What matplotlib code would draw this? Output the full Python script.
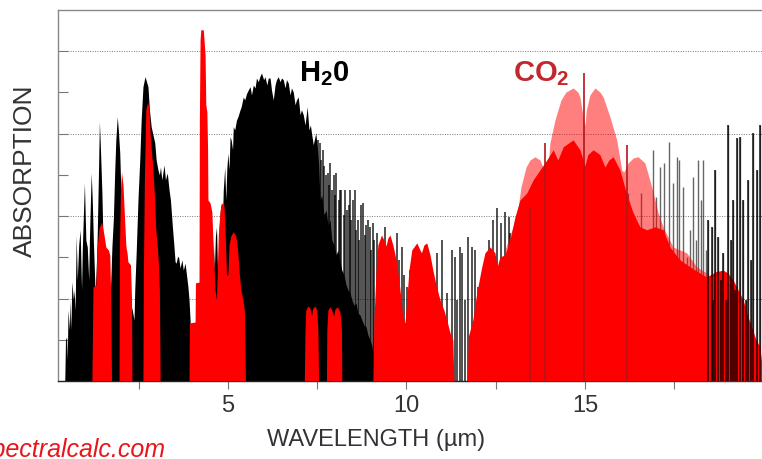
import numpy as np
import matplotlib.pyplot as plt

plt.rcParams['font.family'] = ['Liberation Sans', 'DejaVu Sans']
plt.rcParams['mathtext.fontset'] = 'custom'
plt.rcParams['mathtext.rm'] = 'Liberation Sans:bold'

# H2O dense absorption (black), wavelength in um, absorption in axis units
h2o_wl = [0.43, 0.45, 0.48, 0.50, 0.52, 0.56, 0.58, 0.60, 0.63, 0.67, 0.69, 0.72, 0.75, 0.78, 0.82, 0.86,
          0.90, 0.92, 0.98, 1.02, 1.06, 1.10, 1.12, 1.17, 1.20, 1.23, 1.28, 1.31, 1.34, 1.37, 1.40, 1.43,
          1.47, 1.50, 1.55, 1.58, 1.62, 1.65, 1.69, 1.72, 1.75, 1.79, 1.83, 1.86, 1.90, 1.93, 1.97, 2.00,
          2.03, 2.07, 2.11, 2.16, 2.20, 2.24, 2.27, 2.32, 2.37, 2.39, 2.43, 2.48, 2.53, 2.57, 2.62, 2.66,
          2.68, 2.72, 2.76, 2.80, 2.85, 2.90, 2.95, 2.99, 3.04, 3.08, 3.11, 3.15, 3.21, 3.25, 3.30, 3.35,
          3.39, 3.44, 3.49, 3.52, 3.55, 3.59, 3.62, 3.66, 3.71, 3.75, 3.80, 3.84, 3.88, 3.91, 3.94, 3.95,
          4.55, 4.57, 4.59, 4.62, 4.65, 4.68, 4.72, 4.75, 4.78, 4.81, 4.85, 4.87, 4.91, 4.94, 4.97, 5.00,
          5.03, 5.06, 5.09, 5.13, 5.15, 5.19, 5.24, 5.28, 5.34, 5.37, 5.43, 5.47, 5.52, 5.57, 5.62, 5.66,
          5.71, 5.76, 5.80, 5.85, 5.90, 5.94, 6.00, 6.04, 6.09, 6.13, 6.18, 6.22, 6.27, 6.32, 6.36, 6.41,
          6.46, 6.50, 6.55, 6.60, 6.64, 6.69, 6.74, 6.78, 6.83, 6.88, 6.92, 6.97, 7.02, 7.06, 7.11, 7.16,
          7.22, 7.27, 7.31, 7.34, 7.39, 7.46, 7.51, 7.54, 7.58, 7.63, 7.69, 7.75, 7.80, 7.86, 7.91, 7.97,
          8.03, 8.08, 8.14, 8.19, 8.25, 8.31, 8.36, 8.42, 8.47, 8.53, 8.59, 8.64, 8.70, 8.75, 8.81, 8.87,
          8.92, 8.98, 9.03, 9.07, 9.09]
h2o_abs = [0, 1.00, 1.07, 0.51, 1.72, 1.24, 1.97, 1.24, 2.41, 1.97, 2.21, 1.72, 3.54, 2.45, 3.30, 3.67,
           2.21, 3.18, 4.81, 3.42, 3.25, 2.45, 3.42, 5.05, 4.39, 3.42, 2.14, 2.69, 3.59, 4.88, 6.29, 5.61,
           4.56, 3.42, 2.52, 1.97, 1.41, 1.97, 1.72, 2.45, 3.25, 3.91, 5.12, 5.85, 6.41, 6.09, 5.53, 4.64,
           3.98, 3.42, 2.94, 3.18, 2.52, 2.33, 1.89, 1.72, 1.48, 2.21, 3.11, 4.39, 5.36, 6.33, 7.14, 7.31,
           7.38, 7.26, 7.14, 6.58, 6.17, 5.97, 5.78, 5.36, 5.12, 5.00, 5.19, 4.88, 5.24, 4.88, 5.05, 4.64,
           4.39, 3.79, 3.25, 2.89, 2.86, 3.03, 2.99, 2.74, 2.94, 2.69, 2.86, 2.57, 2.28, 1.97, 1.48, 0,
           0, 1.97, 3.42, 2.69, 3.52, 3.74, 2.21, 3.67, 4.03, 4.32, 4.03, 4.64, 5.19, 4.39, 5.17, 5.53,
           5.12, 5.92, 5.85, 5.61, 6.17, 6.09, 6.33, 6.41, 6.58, 6.65, 6.89, 6.82, 6.97, 7.06, 7.14, 6.94,
           7.18, 7.11, 7.35, 7.26, 7.40, 7.47, 7.31, 7.38, 7.18, 7.35, 7.35, 7.06, 6.82, 7.18, 7.31, 7.38,
           7.26, 7.35, 7.31, 7.11, 7.31, 7.23, 6.94, 7.11, 7.01, 6.70, 6.82, 6.89, 6.46, 6.58, 6.46, 6.21,
           6.65, 6.09, 6.21, 6.02, 5.73, 6.02, 5.61, 5.24, 4.39, 4.51, 4.03, 4.15, 3.79, 3.91, 3.42, 3.30,
           3.06, 3.18, 2.89, 2.69, 2.57, 2.33, 2.21, 2.14, 1.97, 1.84, 1.89, 1.65, 1.60, 1.48, 1.36, 1.31,
           1.12, 1.00, 0.87, 0.63, 0]

# individual H2O lines outside the dense band
line_wl = [7.52, 7.58, 7.62, 7.66, 7.70, 7.75, 7.80, 7.84, 7.87, 7.91, 7.96, 8.00, 8.04, 8.10, 8.14, 8.18,
           8.24, 8.28, 8.33, 8.38, 8.42, 8.46, 8.50, 8.56, 8.60, 8.64, 8.68, 8.73, 8.79, 8.84, 8.88, 8.92,
           8.98, 9.02, 9.05, 9.09, 9.17, 9.22, 9.29, 9.40, 9.48, 9.59, 9.65, 9.73, 9.79, 9.87, 9.93, 10.01,
           10.10, 10.21, 10.35, 10.85, 11.01, 11.14, 11.27, 11.36, 11.43, 11.50, 11.57, 11.65, 11.73, 11.83,
           11.92, 12.01, 12.11, 12.20, 12.32, 12.43, 12.54, 12.64, 12.76, 12.87, 12.90, 13.04, 13.21,
           16.21, 16.35, 16.56, 16.68, 16.90, 16.99, 17.10, 17.21, 17.35, 17.47, 17.57, 17.63, 17.74, 17.85,
           17.94, 18.03, 18.11, 18.17, 18.24, 18.31, 18.39, 18.45, 18.55, 18.60, 18.64, 18.73, 18.80, 18.87,
           18.94, 19.00, 19.08, 19.16, 19.20, 19.25, 19.34, 19.43, 19.51, 19.57, 19.64, 19.71, 19.81, 19.90]
line_abs = [5.85, 5.78, 5.36, 5.61, 5.22, 5.00, 5.05, 4.76, 5.29, 4.64, 5.00, 4.51, 5.05, 4.39, 4.64, 4.64,
            4.03, 4.64, 4.15, 4.27, 4.64, 3.91, 4.39, 4.64, 3.67, 3.91, 3.42, 4.27, 4.32, 3.54, 3.79, 3.91,
            3.74, 3.18, 3.83, 3.42, 3.59, 2.82, 3.18, 3.74, 3.06, 3.30, 2.69, 3.59, 2.94, 3.25, 2.57, 2.28,
            2.69, 2.21, 1.97, 3.11, 3.42, 2.14, 3.18, 3.01, 1.97, 3.25, 3.11, 1.97, 3.50, 3.25,
            3.18, 2.28, 2.62, 2.94, 3.42, 3.91, 4.20, 3.83, 4.10, 3.98, 3.59, 3.67, 3.91,
            4.56, 4.08, 4.56, 3.67, 5.61, 4.47, 5.19, 5.29, 5.80, 4.81, 5.44, 5.36, 4.71, 3.01,
            3.67, 4.95, 3.42, 5.36, 4.39, 5.36, 3.18, 3.91, 3.74, 1.97, 5.12, 3.50, 2.45, 3.11,
            1.97, 6.21, 3.42, 4.39, 2.21, 5.90, 5.92, 4.39, 1.97, 4.88, 2.94, 6.02, 5.12, 6.21]

# CO2 absorption (solid red)
co2_wl = [1.19, 1.22, 1.30, 1.33, 1.39, 1.46, 1.53, 1.58, 1.65, 1.69, 1.71, 1.74,
          1.95, 1.96, 1.99, 2.02, 2.06, 2.10, 2.14, 2.20, 2.27, 2.30, 2.31,
          2.62, 2.63, 2.66, 2.70, 2.75, 2.79, 2.83, 2.89, 2.94, 2.98, 3.03, 3.05, 3.08, 3.10,
          3.91, 3.92, 4.08, 4.09, 4.19, 4.20, 4.22, 4.24, 4.31, 4.36, 4.38, 4.41, 4.43, 4.44, 4.50,
          4.55, 4.59, 4.64, 4.68, 4.71, 4.73, 4.78, 4.83, 4.89, 4.92, 4.96, 5.00, 5.03, 5.08, 5.15,
          5.22, 5.27, 5.32, 5.36, 5.42, 5.46, 5.49,
          7.14, 7.16, 7.18, 7.24, 7.30, 7.34, 7.38, 7.44, 7.49, 7.52, 7.54,
          7.76, 7.77, 7.80, 7.86, 7.91, 7.96, 8.00, 8.07, 8.14, 8.18, 8.19,
          9.06, 9.09, 9.15, 9.20, 9.30, 9.37, 9.43, 9.48, 9.54, 9.62, 9.71, 9.79, 9.85, 9.90, 9.96,
          10.01, 10.07, 10.15, 10.29, 10.38, 10.42, 10.49, 10.57, 10.66, 10.74, 10.83, 10.94, 11.05,
          11.13, 11.22, 11.30, 11.33,
          11.71, 11.73, 11.86, 11.97, 12.11, 12.20, 12.34, 12.48, 12.54, 12.62, 12.76, 12.90, 13.04,
          13.18, 13.37, 13.55, 13.74, 13.93, 14.11, 14.24, 14.39, 14.67, 14.86, 15.00, 15.08, 15.23,
          15.42, 15.56, 15.67, 15.79, 15.98, 16.16, 16.35, 16.54, 16.73, 16.96, 17.19, 17.38, 17.66,
          17.94, 18.22, 18.41, 18.50, 18.67, 18.87, 19.00, 19.15, 19.29, 19.43, 19.55, 19.67, 19.79,
          19.90, 20.01]
co2_abs = [0, 2.28, 2.33, 3.18, 3.71, 3.86, 3.54, 3.25, 3.18, 3.06, 2.28, 0,
           0, 3.18, 4.64, 5.07, 4.76, 4.03, 3.30, 2.89, 2.82, 1.97, 0,
           0, 2.45, 4.88, 6.58, 6.77, 6.58, 5.85, 5.24, 4.51, 3.67, 3.18, 2.89, 2.21, 0,
           0, 1.41, 1.43, 2.38, 2.40, 6.33, 8.28, 8.52, 8.52, 7.91, 6.70, 6.53, 5.61, 4.39, 4.32,
           4.10, 3.18, 2.21, 1.97, 2.94, 3.54, 4.15, 4.32, 4.27, 3.67, 2.57, 2.57, 3.30, 3.52, 3.62,
           3.52, 3.20, 2.60, 2.21, 1.97, 1.72, 0,
           0, 1.24, 1.72, 1.82, 1.77, 1.58, 1.77, 1.82, 1.72, 1.24, 0,
           0, 1.24, 1.72, 1.80, 1.72, 1.58, 1.75, 1.80, 1.67, 1.24, 0,
           0, 1.48, 2.69, 3.30, 3.54, 3.42, 3.28, 3.47, 3.54, 3.30, 2.94, 2.45, 1.97, 1.53, 1.41,
           1.97, 2.69, 3.18, 3.35, 3.18, 3.11, 3.30, 3.35, 3.06, 2.69, 2.33, 1.97, 1.72,
           1.48, 1.17, 1.00, 0,
           0, 1.07, 1.48, 2.14, 2.77, 3.11, 3.25, 3.11, 2.77, 3.01, 3.06, 3.42, 3.98,
           4.39, 4.56, 4.88, 5.12, 5.36, 5.61, 5.36, 5.68, 5.85, 5.61, 5.22, 5.49, 5.61,
           5.49, 5.19, 5.36, 5.44, 5.12, 4.56, 4.08, 3.74, 3.67, 3.74, 3.67, 3.25, 2.94,
           2.77, 2.62, 2.52, 2.57, 2.65, 2.69, 2.62, 2.45, 2.21, 1.97, 1.60, 1.31, 1.00,
           0.83, 0]

# CO2 15 um band upper envelope (light red)
wing_wl = [12.76, 12.76, 12.90, 13.09, 13.21, 13.35, 13.46, 13.60, 13.74, 13.82, 13.93, 13.96, 14.02,
           14.16, 14.33, 14.47, 14.67, 14.80, 14.86, 14.94, 15.00, 15.04, 15.14, 15.28, 15.42, 15.51,
           15.70, 15.89, 16.03, 16.09, 16.21, 16.35, 16.49, 16.68, 16.87, 17.05, 17.19, 17.47, 17.85,
           18.13, 18.41, 18.45]
wing_abs = [0, 3.18, 3.54, 3.98, 4.71, 5.19, 5.36, 5.44, 5.36, 5.19, 4.71, 5.12, 5.78,
            6.33, 6.82, 7.01, 7.11, 7.01, 6.89, 6.46, 6.19, 6.58, 6.94, 7.11, 7.01, 6.89,
            6.41, 5.85, 5.12, 5.07, 5.29, 5.41, 5.44, 5.29, 4.71, 4.08, 3.74, 3.25, 3.11,
            2.77, 2.62, 0]

# strong CO2 lines sticking out of the band
co2_line_wl = [13.46, 13.88, 14.98, 16.18]
co2_line_abs = [4.22, 5.78, 7.48, 5.73]

fig = plt.figure(figsize=(7.62, 4.59), dpi=100)
ax = fig.add_axes([58 / 762, 1 - 381 / 459, 1 - 58 / 762, 371 / 459])

for g in [2, 4, 6, 8]:
    ax.axhline(g, color='#777777', ls=(0, (1, 1.5)), lw=0.7, zorder=0)

lw_arr = np.array(line_wl)
la_arr = np.array(line_abs)
near = lw_arr < 13.5
far = lw_arr > 18.4

ax.fill_between(h2o_wl, h2o_abs, color='black', lw=0, zorder=2)
ax.vlines(lw_arr[near], 0, la_arr[near], color='black', alpha=0.8, lw=1.2, zorder=2)
ax.vlines(lw_arr[~near], 0, la_arr[~near], color='black', alpha=0.6, lw=1.0, zorder=2)
ax.fill_between(wing_wl, wing_abs, color='red', alpha=0.5, lw=0, zorder=3)
ax.fill_between(co2_wl, co2_abs, color='#ff0000', lw=0, zorder=4)
ax.vlines(co2_line_wl, 0, co2_line_abs, color='#b3161b', lw=1.2, zorder=5)

# lines on top of the long-wave red wing
ax.vlines(lw_arr[far], 0, la_arr[far], color='black', alpha=0.7, lw=1.4, zorder=6)

ax.set_xlim(0.24, 19.96)
ax.set_ylim(0, 9)
ax.set_xticks([2.5, 5, 7.5, 10, 12.5, 15, 17.5])
ax.set_xticklabels(['', '5', '', '10', '', '15', ''])
ax.set_yticks(range(1, 9))
ax.set_yticklabels([])
ax.tick_params(axis='x', direction='out', length=6, width=0.8, color='#777777',
               labelsize=17, labelcolor='#333333', pad=4)
ax.tick_params(axis='y', direction='in', length=7, width=0.8, color='#777777')

ax.spines['right'].set_visible(False)
ax.spines['top'].set_color('#888888')
ax.spines['left'].set_color('#888888')
ax.spines['bottom'].set_color('#222222')
for s in ['top', 'left', 'bottom']:
    ax.spines[s].set_linewidth(1.0)

fig.text(25 / 762, 1 - 171 / 459, 'ABSORPTION', rotation=90, ha='center', va='center',
         fontsize=19, color='#333333')
fig.text(376 / 762, 1 - 440 / 459, 'WAVELENGTH (µm)', ha='center', va='center',
         fontsize=17, color='#333333')
fig.text(-20 / 762, 1 - 450 / 459, 'spectralcalc.com', ha='left', va='center',
         fontsize=18, color='#e8161b', style='italic')

ax.text(6.98, 7.27, 'H$_2$0', fontsize=21, fontweight='bold', color='black', zorder=8)
ax.text(12.98, 7.27, 'CO$_2$', fontsize=21, fontweight='bold', color='#c0282d', zorder=8)

fig.savefig('out.png', dpi=100)
